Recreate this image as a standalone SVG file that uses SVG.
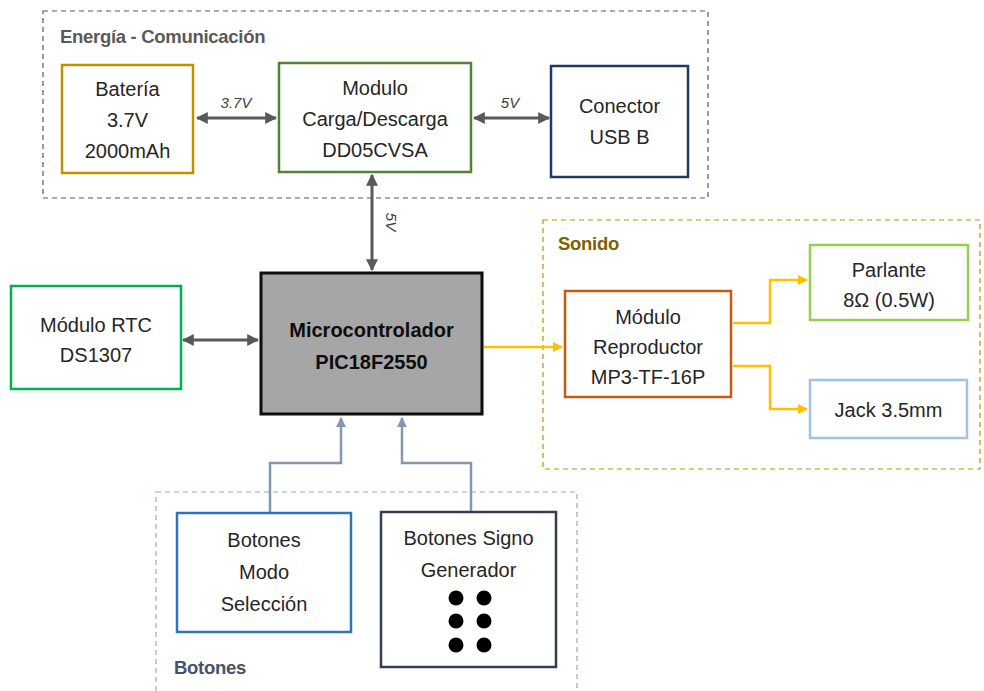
<svg xmlns="http://www.w3.org/2000/svg" width="984" height="691" viewBox="0 0 984 691">
<defs>
<marker id="ag" viewBox="0 0 10 10" refX="9" refY="5" markerWidth="4" markerHeight="4" orient="auto-start-reverse" markerUnits="strokeWidth"><path d="M0,0 L10,5 L0,10 z" fill="#595959"/></marker>
<marker id="ay" viewBox="0 0 10 10" refX="9" refY="5" markerWidth="4" markerHeight="4" orient="auto" markerUnits="strokeWidth"><path d="M0,0 L10,5 L0,10 z" fill="#ffc000"/></marker>
<marker id="ab" viewBox="0 0 10 10" refX="9" refY="5" markerWidth="4" markerHeight="4" orient="auto" markerUnits="strokeWidth"><path d="M0,0 L10,5 L0,10 z" fill="#8497b0"/></marker>
</defs>
<style>
.t{font-family:"Liberation Sans",Arial,sans-serif;font-size:20px;fill:#262626;text-anchor:middle}
.b{font-family:"Liberation Sans",Arial,sans-serif;font-size:20px;font-weight:bold;fill:#0d0d0d;text-anchor:middle}
.g{font-family:"Liberation Sans",Arial,sans-serif;font-size:18.5px;font-weight:bold;letter-spacing:-0.3px}
.l{font-family:"Liberation Sans",Arial,sans-serif;font-size:15px;font-style:italic;fill:#404040;text-anchor:middle}
.n{fill:#fff;stroke-width:2.5}
.grp{fill:none;stroke-width:1.2;stroke-dasharray:5,4}
.cg{fill:none;stroke:#595959;stroke-width:3;marker-start:url(#ag);marker-end:url(#ag)}
.cy{fill:none;stroke:#ffc000;stroke-width:2.5;marker-end:url(#ay)}
.cb{fill:none;stroke:#8497b0;stroke-width:2.5;marker-end:url(#ab)}
</style>
<g id="grp-energia">
<rect class="grp" x="43" y="11" width="665" height="187" stroke="#595959"/>
<text class="g" x="60" y="43" fill="#595959">Energía - Comunicación</text>
</g>
<g id="grp-sonido">
<rect class="grp" x="543" y="220" width="437" height="249" stroke="#bf9000"/>
<text class="g" x="558" y="250" fill="#7f6000">Sonido</text>
</g>
<g id="grp-botones">
<rect class="grp" x="156" y="492" width="421" height="205" stroke="#8faadc"/>
<text class="g" x="174" y="674" fill="#44546a">Botones</text>
</g>
<g id="connectors">
<line class="cg" x1="197" y1="118" x2="276" y2="118"/>
<text class="l" x="236" y="108">3.7V</text>
<line class="cg" x1="474" y1="118" x2="549" y2="118"/>
<text class="l" x="510" y="108">5V</text>
<line class="cg" x1="372" y1="175" x2="372" y2="270"/>
<text class="l" transform="translate(386,222) rotate(90)">5V</text>
<line class="cg" x1="183" y1="340" x2="258" y2="340"/>
<line class="cy" x1="484" y1="347" x2="562" y2="347"/>
<polyline class="cy" points="733,323 770,323 770,280 807,280"/>
<polyline class="cy" points="733,366 770,366 770,409 807,409"/>
<polyline class="cb" points="270,512 270,463 341,463 341,418"/>
<polyline class="cb" points="471,512 471,463 402,463 402,418"/>
</g>
<g id="bateria">
<rect class="n" x="62" y="65" width="131" height="108" stroke="#bf9000"/>
<text class="t" x="127.5" y="96">Batería</text>
<text class="t" x="127.5" y="127">3.7V</text>
<text class="t" x="127.5" y="158">2000mAh</text>
</g>
<g id="modulo-carga">
<rect class="n" x="279" y="63" width="192" height="109" stroke="#538135"/>
<text class="t" x="375" y="95">Modulo</text>
<text class="t" x="375" y="126">Carga/Descarga</text>
<text class="t" x="375" y="157">DD05CVSA</text>
</g>
<g id="conector-usb">
<rect class="n" x="551" y="66" width="137" height="111" stroke="#1f3864"/>
<text class="t" x="619.5" y="113">Conector</text>
<text class="t" x="619.5" y="144">USB B</text>
</g>
<g id="microcontrolador">
<rect x="261" y="273" width="221" height="141" fill="#a6a6a6" stroke="#0d0d0d" stroke-width="3"/>
<text class="b" x="371.5" y="337">Microcontrolador</text>
<text class="b" x="371.5" y="369">PIC18F2550</text>
</g>
<g id="modulo-rtc">
<rect class="n" x="11" y="286" width="170" height="103" stroke="#00b050"/>
<text class="t" x="96" y="332">Módulo RTC</text>
<text class="t" x="96" y="362">DS1307</text>
</g>
<g id="modulo-reproductor">
<rect class="n" x="565" y="291" width="166" height="106" stroke="#c55a11"/>
<text class="t" x="648" y="324">Módulo</text>
<text class="t" x="648" y="354">Reproductor</text>
<text class="t" x="648" y="384">MP3-TF-16P</text>
</g>
<g id="parlante">
<rect class="n" x="810" y="245" width="158" height="75" stroke="#92d050"/>
<text class="t" x="889" y="277">Parlante</text>
<text class="t" x="889" y="307">8Ω (0.5W)</text>
</g>
<g id="jack">
<rect class="n" x="810" y="380" width="157" height="58" stroke="#9dc3e6"/>
<text class="t" x="888.5" y="417">Jack 3.5mm</text>
</g>
<g id="botones-modo">
<rect class="n" x="177" y="513" width="174" height="119" stroke="#2e75b6"/>
<text class="t" x="264" y="547">Botones</text>
<text class="t" x="264" y="579">Modo</text>
<text class="t" x="264" y="611">Selección</text>
</g>
<g id="botones-signo">
<rect class="n" x="381" y="512" width="175" height="155" stroke="#333f50"/>
<text class="t" x="468.5" y="545">Botones Signo</text>
<text class="t" x="468.5" y="577">Generador</text>
<circle cx="456" cy="598" r="7.5" fill="#000"/>
<circle cx="484" cy="598" r="7.5" fill="#000"/>
<circle cx="456" cy="621" r="7.5" fill="#000"/>
<circle cx="484" cy="621" r="7.5" fill="#000"/>
<circle cx="456" cy="645" r="7.5" fill="#000"/>
<circle cx="484" cy="645" r="7.5" fill="#000"/>
</g>
</svg>
